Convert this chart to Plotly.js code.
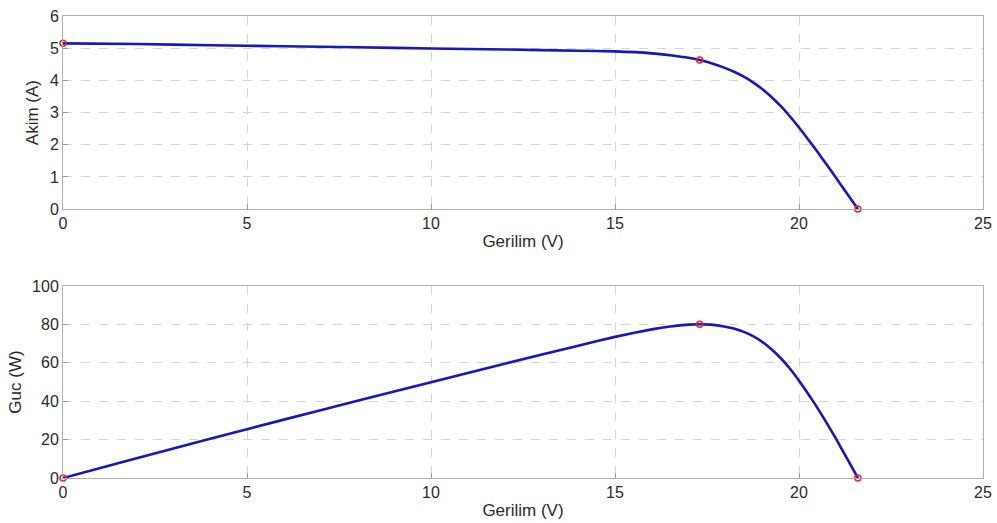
<!DOCTYPE html>
<html>
<head>
<meta charset="utf-8">
<script src="https://cdn.plot.ly/plotly-3.0.1.min.js"></script>
<style>html,body{margin:0;padding:0;background:#fff;}#chart{width:997px;height:523px;}</style>
</head>
<body>
<div id="chart"></div>
<script>
// Voltage samples (V)
const voltage = [0, 2, 4, 6, 8, 10, 12, 14, 15, 16, 16.5, 17, 17.3, 17.6, 18, 18.25, 18.5, 18.75, 19, 19.25, 19.5, 19.75, 20, 20.25, 20.5, 20.75, 21, 21.3, 21.6];
// Current (A)
const current = [5.15, 5.13, 5.09, 5.06, 5.03, 4.99, 4.96, 4.92, 4.90, 4.84, 4.78, 4.70, 4.63, 4.54, 4.38, 4.26, 4.115, 3.94, 3.73, 3.485, 3.205, 2.885, 2.535, 2.165, 1.78, 1.385, 0.98, 0.49, 0];
// Power (W)
const power = [0, 10.3, 20.4, 30.4, 40.2, 49.9, 59.5, 68.9, 73.5, 77.4, 78.9, 79.9, 80.1, 79.9, 78.8, 77.7, 76.1, 73.9, 70.9, 67.1, 62.5, 57.0, 50.7, 43.8, 36.5, 28.7, 20.6, 10.4, 0];
// Marked points: short circuit, maximum power, open circuit
const markV = [0, 17.3, 21.6];
const markI = [5.15, 4.63, 0];
const markP = [0, 80.1, 0];

const lineStyle = {color: 'rgb(22,22,195)', width: 2.6, shape: 'spline', smoothing: 0.5};
const markStyle = {symbol: 'circle-open', size: 6, color: 'rgb(230,40,40)', line: {width: 1.5, color: 'rgb(230,40,40)'}};

const traces = [
  {x: voltage, y: current, mode: 'lines', line: lineStyle, xaxis: 'x', yaxis: 'y', hoverinfo: 'skip'},
  {x: markV, y: markI, mode: 'markers', marker: markStyle, xaxis: 'x', yaxis: 'y', cliponaxis: false},
  {x: voltage, y: power, mode: 'lines', line: lineStyle, xaxis: 'x2', yaxis: 'y2', hoverinfo: 'skip'},
  {x: markV, y: markP, mode: 'markers', marker: markStyle, xaxis: 'x2', yaxis: 'y2', cliponaxis: false}
];

const fontFam = 'Liberation Sans, Arial, Helvetica, sans-serif';
const titleFont = {family: fontFam, size: 17, color: '#2a2a2a'};
const axisCommon = {
  showline: true, linecolor: '#b0b0b0', linewidth: 1, mirror: true,
  ticks: 'inside', ticklen: 5, tickcolor: '#9a9a9a',
  showgrid: true, gridcolor: '#d6d6d6', griddash: 'dash', gridwidth: 1,
  zeroline: false,
  tickfont: {family: fontFam, size: 16, color: '#2a2a2a'}
};

const layout = {
  width: 997, height: 523,
  margin: {l: 63, r: 14, t: 16, b: 45},
  paper_bgcolor: '#ffffff', plot_bgcolor: '#ffffff',
  showlegend: false,
  font: {family: fontFam, color: '#2a2a2a'},
  xaxis: Object.assign({}, axisCommon, {
    domain: [0, 1], range: [0, 25], tickvals: [0, 5, 10, 15, 20, 25], anchor: 'y',
    title: {text: 'Gerilim (V)', font: titleFont, standoff: 3}
  }),
  yaxis: Object.assign({}, axisCommon, {
    domain: [0.582, 1], range: [0, 6], tickvals: [0, 1, 2, 3, 4, 5, 6], anchor: 'x',
    title: {text: 'Akim (A)', font: titleFont, standoff: 6}
  }),
  xaxis2: Object.assign({}, axisCommon, {
    domain: [0, 1], range: [0, 25], tickvals: [0, 5, 10, 15, 20, 25], anchor: 'y2',
    title: {text: 'Gerilim (V)', font: titleFont, standoff: 3}
  }),
  yaxis2: Object.assign({}, axisCommon, {
    domain: [0, 0.4156], range: [0, 100], tickvals: [0, 20, 40, 60, 80, 100], anchor: 'x2',
    title: {text: 'Guc (W)', font: titleFont, standoff: 6}
  })
};

Plotly.newPlot('chart', traces, layout, {displayModeBar: false, staticPlot: true});
</script>
</body>
</html>
